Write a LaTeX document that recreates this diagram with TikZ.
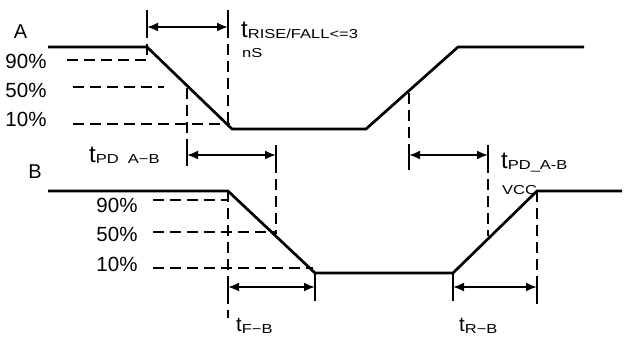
\documentclass[tikz,border=0pt]{standalone}
\usepackage{fontspec}
\setmainfont{Liberation Sans}
\newfontfamily\widefont[FakeStretch=1.27]{Liberation Sans}
\usetikzlibrary{arrows.meta}
\tikzset{
  wave/.style={line width=2.7pt, line join=miter},
  guide/.style={line width=1.8pt, dash pattern=on 11pt off 6pt},
  dimarrow/.style={line width=1.8pt, {Latex[length=11pt,width=9pt]}-{Latex[length=11pt,width=9pt]}},
  dimbar/.style={line width=1.8pt},
  pct/.style={inner sep=0pt, anchor=base, font=\fontsize{20.5}{20.5}\selectfont},
  sig/.style={inner sep=0pt, anchor=base, font=\fontsize{20}{20}\selectfont},
  tlabel/.style={inner sep=0pt, anchor=base west},
  small/.style={inner sep=0pt, anchor=base west, font=\widefont\fontsize{13}{13}\selectfont},
}
\newcommand{\tbig}[1]{{\fontsize{24}{24}\selectfont t}{\widefont\fontsize{13}{13}\selectfont\raisebox{-1.5pt}{#1}}}
\newcommand{\tmid}[1]{{\fontsize{20.5}{20.5}\selectfont t}{\widefont\fontsize{13}{13}\selectfont\raisebox{-2.5pt}{#1}}}
\begin{document}
\begin{tikzpicture}[x=1pt,y=-1pt]
\useasboundingbox (0,0) rectangle (625,338);
% waveform A
\coordinate (a0) at (48,47);
\coordinate (a1) at (147,47);
\coordinate (a2) at (232,129);
\coordinate (a3) at (366,129);
\coordinate (a4) at (458,47);
\coordinate (a5) at (584,47);
% waveform B
\coordinate (b0) at (48,191);
\coordinate (b1) at (228,191);
\coordinate (b2) at (315,273);
\coordinate (b3) at (453,273);
\coordinate (b4) at (537,191);
\coordinate (b5) at (622,191);

% guides A
\draw[guide] (67,60) -- (147,60) -- (147,10);
\draw[guide] (73,87) -- (164,87);
\draw[guide] (73,124) -- (230,124);
\draw[guide] (228,10) -- (228,124);
\draw[guide] (187,88) -- (187,166);
\draw[guide] (276,145) -- (276,234);
\draw[guide] (409,93) -- (409,170);
\draw[guide] (488,145) -- (488,236);
% guides B
\draw[guide] (153,200) -- (228,200);
\draw[guide] (153,232) -- (277,232);
\draw[guide] (153,268) -- (313,268);
\draw[guide] (228,191) -- (228,318);
\draw[guide] (315,273) -- (315,302);
\draw[guide] (453,273) -- (453,302);
\draw[guide] (537,191) -- (537,306);

% waveforms
\draw[wave] (a0) -- (a1) -- (a2) -- (a3) -- (a4) -- (a5);
\draw[wave] (b0) -- (b1) -- (b2) -- (b3) -- (b4) -- (b5);

% dimension arrows
\coordinate (r1) at (147,27); \coordinate (r2) at (228,27);
\coordinate (p1) at (187,155); \coordinate (p2) at (276,155);
\coordinate (q1) at (409,155); \coordinate (q2) at (488,155);
\coordinate (f1) at (228,287); \coordinate (f2) at (315,287);
\coordinate (g1) at (453,287); \coordinate (g2) at (537,287);
\foreach \s/\e in {r1/r2,p1/p2,q1/q2,f1/f2,g1/g2}{
  \draw[dimarrow] (\s) -- (\e);
  \draw[dimbar] ([yshift=-10pt]\s) -- ([yshift=10pt]\s);
  \draw[dimbar] ([yshift=-10pt]\e) -- ([yshift=10pt]\e);
}

% signal names
\node[sig] (lA) at (20.5,38) {A};
\node[sig] (lB) at (35,178) {B};
% percentages A
\node[pct] (a90) at (26,68) {90\%};
\node[pct] (a50) at (26,97) {50\%};
\node[pct] (a10) at (26,126) {10\%};
% percentages B
\node[pct] (b90) at (117,212) {90\%};
\node[pct] (b50) at (117,241) {50\%};
\node[pct] (b10) at (117,271) {10\%};

% timing labels
\node[tlabel] (trise) at (241,37) {\tbig{RISE/FALL<=3}};
\node[small] (ns) at (242,57) {nS};
\node[tlabel] (tpdl) at (89,162) {\tbig{PD\ \ A−B}};
\node[tlabel] (tpdr) at (501,168) {\tbig{PD\_A-B}};
\node[small] (vcc) at (502,194) {VCC};
\node[tlabel] (tfb) at (236,331) {\tmid{F−B}};
\node[tlabel] (trb) at (459,331) {\tmid{R−B}};
\end{tikzpicture}
\end{document}
